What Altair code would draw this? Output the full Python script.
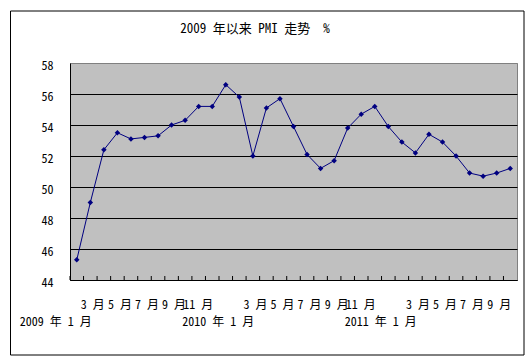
import altair as alt
import pandas as pd

# ---- data ----
title_text = ["2009 年以来 PMI 走势\u00a0\u00a0%"]
categories = [f"{y}-{m:02d}" for y in (2009, 2010, 2011) for m in range(1, 13)][:33]
month_labels = ["2009 年 1 月", "2 月", "3 月", "4 月", "5 月", "6 月", "7 月", "8 月", "9 月", "10 月", "11 月", "12 月",
                "2010 年 1 月", "2 月", "3 月", "4 月", "5 月", "6 月", "7 月", "8 月", "9 月", "10 月", "11 月", "12 月",
                "2011 年 1 月", "2 月", "3 月", "4 月", "5 月", "6 月", "7 月", "8 月", "9 月"]
pmi = [45.3, 49.0, 52.4, 53.5, 53.1, 53.2, 53.3, 54.0, 54.3, 55.2, 55.2, 56.6,
       55.8, 52.0, 55.1, 55.7, 53.9, 52.1, 51.2, 51.7, 53.8, 54.7, 55.2, 53.9,
       52.9, 52.2, 53.4, 52.9, 52.0, 50.9, 50.7, 50.9, 51.2]
y_ticks = [44, 46, 48, 50, 52, 54, 56, 58]

df = pd.DataFrame({"cat": categories, "label": month_labels, "pmi": pmi, "idx": range(len(pmi))})

FONT = "Noto Sans Mono CJK SC, Noto Sans CJK SC, DejaVu Sans Mono"
W, H = 447, 217

xscale = alt.Scale(type="band", domain=categories, paddingInner=0, paddingOuter=0)
yscale = alt.Scale(domain=[44, 58], nice=False, zero=False)

x_axis = alt.Axis(labels=False, ticks=False, domain=True, domainColor="black",
                  grid=False, title=None)
y_axis = alt.Axis(values=y_ticks, title=None, ticks=False, labelPadding=17,
                  labelFont=FONT, labelFontSize=12, labelColor="black",
                  labelOverlap=False, labelFlush=False,
                  labelOffset=2, domain=True, domainColor="black",
                  grid=True, gridWidth=1,
                  gridColor={"condition": {"test": "datum.value == 58", "value": "#808080"},
                             "value": "black"})

base = alt.Chart(df)

line = base.mark_line(color="#000080", strokeWidth=1).encode(
    x=alt.X("cat:N", scale=xscale, bandPosition=0.5, axis=x_axis),
    y=alt.Y("pmi:Q", scale=yscale, axis=y_axis),
)

points = base.mark_point(shape="diamond", filled=True, size=30, color="#000080", opacity=1).encode(
    x=alt.X("cat:N", scale=xscale, bandPosition=0.5, axis=x_axis),
    y=alt.Y("pmi:Q", scale=yscale, axis=y_axis),
)

ticks = base.mark_rule(color="black", strokeWidth=1).encode(
    x=alt.X("cat:N", scale=xscale, bandPosition=0, axis=x_axis),
    y=alt.value(H - 4), y2=alt.value(H),
)

row1 = base.transform_filter(
    "datum.idx % 2 == 0 && datum.idx % 12 != 0"
).mark_text(font=FONT, fontSize=12, align="right", baseline="middle", dx=1, color="black").encode(
    x=alt.X("cat:N", scale=xscale, bandPosition=0.5, axis=x_axis),
    y=alt.value(242),
    text="label:N",
)

row2 = base.transform_filter(
    "datum.idx % 12 == 0"
).mark_text(font=FONT, fontSize=12, align="right", baseline="middle", dx=15, color="black").encode(
    x=alt.X("cat:N", scale=xscale, bandPosition=0.5, axis=x_axis),
    y=alt.value(259),
    text="label:N",
)

title = alt.Chart(pd.DataFrame({"t": title_text})).mark_text(
    font=FONT, fontSize=13, align="center", baseline="middle", color="black"
).encode(x=alt.value(185), y=alt.value(-34), text="t:N")

frame = alt.Chart(pd.DataFrame({"t": title_text})).mark_rect(
    fill=None, stroke="black", strokeWidth=1, fillOpacity=0
).encode(x=alt.value(-59.5), x2=alt.value(454), y=alt.value(-52), y2=alt.value(292))

chart = alt.layer(line, ticks, points, row1, row2, title, frame).properties(
    width=W, height=H,
    autosize=alt.AutoSizeParams(type="none"),
    padding={"left": 70, "top": 63, "right": 12, "bottom": 76},
    background="white",
).configure_view(
    fill="#C0C0C0", stroke="#808080", strokeWidth=1
)

chart.save("out.html", embed_options={"renderer": "svg", "actions": False})
